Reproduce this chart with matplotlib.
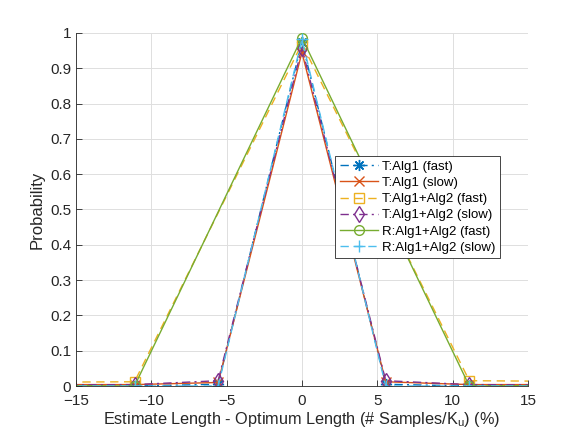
#!/usr/bin/env python3
import matplotlib
matplotlib.use("Agg")
import matplotlib.pyplot as plt

# x positions (% of optimum length) for the two grid spacings
xNarrow = [-16.67, -11.11, -5.56, 0.0, 5.56, 11.11, 16.67]
xWide = [-22.22, -11.11, 0.0, 11.11, 22.22]

# probabilities
tAlg1Fast = [0.0, 0.0, 0.005, 0.975, 0.005, 0.0, 0.0]
tAlg1Slow = [0.004, 0.004, 0.01, 0.945, 0.012, 0.004, 0.004]
tAlg12Fast = [0.01, 0.012, 0.97, 0.015, 0.012]
tAlg12Slow = [0.003, 0.004, 0.015, 0.958, 0.015, 0.004, 0.003]
rAlg12Fast = [0.003, 0.0, 0.987, 0.0, 0.003]
rAlg12Slow = [0.0, 0.0, 0.0, 0.982, 0.0, 0.0, 0.0]

labels = ["T:Alg1 (fast)", "T:Alg1 (slow)", "T:Alg1+Alg2 (fast)",
          "T:Alg1+Alg2 (slow)", "R:Alg1+Alg2 (fast)", "R:Alg1+Alg2 (slow)"]

plt.rcParams['font.family'] = ['Liberation Sans', 'DejaVu Sans']

fig = plt.figure(figsize=(5.84, 4.38), dpi=100)
ax = fig.add_axes([0.130, 0.1187, 0.774, 0.806])

dashDot = (0, (6, 3, 1.5, 3))
dashed = (0, (6, 4))

ax.plot(xNarrow, tAlg1Fast, color='#0072BD', linestyle=dashDot, marker=(8, 2, 0), ms=8, lw=1, label=labels[0])
ax.plot(xNarrow, tAlg1Slow, color='#D95319', linestyle='-', marker='x', ms=7, lw=1, label=labels[1])
ax.plot(xWide, tAlg12Fast, color='#EDB120', linestyle=dashed, marker='s', ms=7, mfc='none', lw=1, label=labels[2])
ax.plot(xNarrow, tAlg12Slow, color='#7E2F8E', linestyle=dashDot, marker='d', ms=8, mfc='none', lw=1, label=labels[3])
ax.plot(xWide, rAlg12Fast, color='#77AC30', linestyle='-', marker='o', ms=7, mfc='none', lw=1, label=labels[4])
ax.plot(xNarrow, rAlg12Slow, color='#4DBEEE', linestyle=dashed, marker='+', ms=9, lw=1, label=labels[5])

ax.set_xlim(-15, 15)
ax.set_ylim(0, 1)
ax.set_xticks(range(-15, 16, 5))
ax.set_yticks([i / 10 for i in range(11)])
ax.set_yticklabels(["0"] + [f"{i / 10:g}" for i in range(1, 10)] + ["1"])

ax.grid(True, color='#dedede', lw=0.7)
ax.set_axisbelow(True)
for side in ['top', 'right']:
    ax.spines[side].set_visible(False)
for side in ['left', 'bottom']:
    ax.spines[side].set_color('#262626')
    ax.spines[side].set_linewidth(0.6)
ax.tick_params(direction='in', length=4, width=0.6, colors='#262626', labelsize=11)
ax.tick_params(axis='x', pad=6)

ax.set_xlabel("Estimate Length - Optimum Length (# Samples/K$_\\mathregular{u}$) (%)",
              fontsize=11.7, color='#262626', labelpad=1)
ax.set_ylabel("Probability", fontsize=12, color='#262626')

leg = ax.legend(loc='upper left', bbox_to_anchor=(0.5736, 0.6438), bbox_transform=fig.transFigure,
                fontsize=9.5, fancybox=False, framealpha=1, edgecolor='#262626',
                handlelength=2.9, borderpad=0.35, labelspacing=0.3, handletextpad=0.35, borderaxespad=0)
leg.get_frame().set_linewidth(0.6)

fig.savefig("out.png", dpi=100)
